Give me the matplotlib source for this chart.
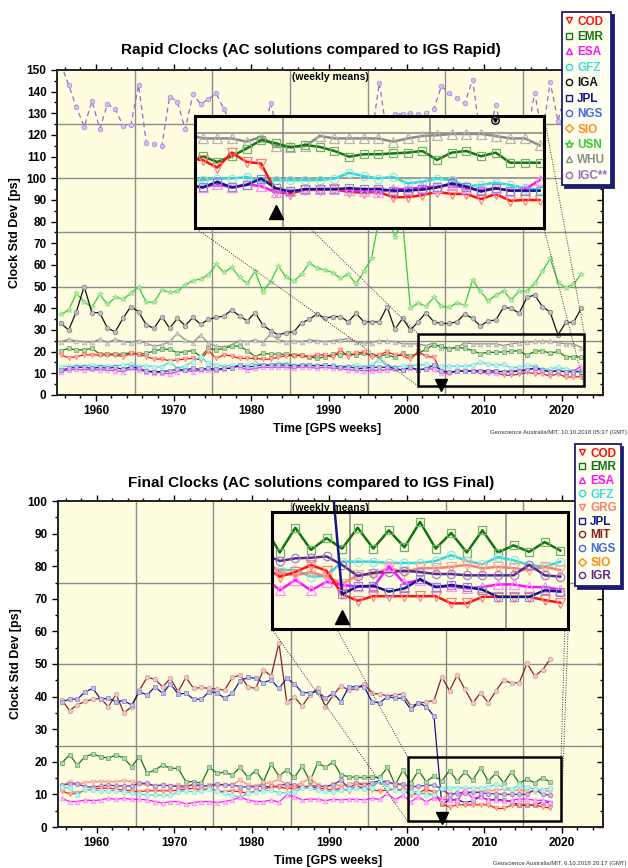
import numpy as np
import matplotlib.pyplot as plt
import matplotlib.colors as mcolors
from matplotlib.lines import Line2D
from matplotlib.patches import Rectangle

plt.rcParams['font.family'] = ['Liberation Sans', 'DejaVu Sans']

# GPS weeks of the weekly means
rapid_weeks = np.arange(1955.5, 2023.0, 1.0)   # 1955.5 .. 2022.5
final_weeks = np.arange(1955.5, 2019.0, 1.0)   # 1955.5 .. 2018.5

# ---- Rapid clocks, std dev [ps]
rapid_cod = [18.5, 17.2, 17.7, 18.5, 18.5, 18.5, 18.5, 18.5, 17.7, 19.2,
             18.9, 17.7, 16.6, 16.6, 15.8, 16.2, 16.6, 16.9, 16.2, 20.5,
             16.9, 18.5, 18.0, 16.9, 16.9, 16.9, 16.5, 16.5, 17.4, 18.2,
             18.2, 18.2, 17.4, 18.5, 18.5, 17.4, 20.8, 17.7, 19.2, 20.0,
             17.7, 18.5, 20.0, 18.5, 18.3, 16.4, 20.1, 17.8, 17.4, 10.4,
             10.0, 10.9, 10.9, 11.0, 10.4, 10.2, 10.4, 9.1, 9.1, 9.6,
             10.4, 9.9, 9.9, 8.6, 9.9, 8.2, 8.4, 8.4]
rapid_emr = [20.5, 21.5, 20.8, 20.8, 21.5, 18.9, 18.9, 18.9, 18.9, 19.5,
             18.9, 19.2, 20.3, 21.1, 21.1, 19.5, 20.0, 20.5, 17.7, 21.5,
             20.8, 21.5, 22.6, 22.6, 20.5, 17.7, 19.2, 18.9, 18.9, 18.8,
             18.5, 18.5, 17.7, 16.9, 17.7, 18.8, 18.5, 19.2, 18.5, 19.2,
             18.5, 18.2, 18.5, 17.4, 19.2, 17.8, 19.2, 21.1, 23.2, 22.4,
             21.4, 22.0, 21.5, 20.5, 19.1, 19.7, 19.7, 19.9, 20.1, 20.5,
             18.3, 20.1, 20.5, 19.2, 20.1, 17.6, 17.6, 17.6]
rapid_esa = [10.8, 11.5, 11.8, 11.5, 11.8, 11.5, 11.5, 11.2, 10.8, 12.3,
             11.5, 10.8, 10.3, 10.3, 9.7, 10.8, 11.5, 10.8, 11.5, 11.5,
             11.5, 11.8, 12.8, 13.1, 11.5, 12.3, 12.8, 12.8, 12.8, 12.8,
             12.3, 13.1, 12.8, 12.3, 12.8, 12.3, 12.3, 11.5, 11.5, 11.2,
             11.2, 11.5, 11.5, 11.8, 11.5, 12.3, 11.5, 12.3, 11.8, 10.3,
             10.5, 11.0, 11.1, 11.1, 10.9, 10.7, 10.3, 11.1, 11.1, 11.5,
             11.7, 12.1, 11.3, 10.9, 11.3, 10.7, 11.0, 13.3]
rapid_gfz = [13.1, 13.4, 13.4, 13.4, 13.8, 13.4, 13.4, 13.4, 13.8, 14.3,
             13.4, 13.4, 13.1, 12.8, 15.4, 12.3, 13.4, 15.4, 17.7, 14.6,
             13.8, 13.4, 13.8, 13.4, 13.8, 14.9, 13.8, 13.8, 14.9, 14.3,
             13.8, 13.4, 13.4, 13.8, 13.4, 13.8, 13.1, 13.4, 13.8, 13.1,
             13.8, 16.3, 13.4, 13.1, 13.3, 13.7, 13.7, 14.1, 12.9, 13.3,
             13.3, 13.3, 13.3, 13.7, 15.1, 14.3, 13.7, 14.1, 12.5, 12.9,
             13.7, 13.3, 11.8, 12.1, 12.7, 12.1, 11.3, 10.9]
rapid_iga = [33.1, 30.0, 38.5, 50.0, 38.0, 38.0, 30.8, 29.2, 35.4, 40.8,
             38.5, 32.3, 30.8, 36.2, 30.8, 35.4, 32.0, 35.8, 32.6, 34.9,
             35.8, 36.5, 39.2, 36.5, 34.2, 38.0, 32.3, 29.7, 27.7, 28.8,
             29.2, 33.4, 34.9, 37.5, 35.4, 36.2, 36.2, 33.8, 37.7, 33.8,
             33.8, 33.8, 40.8, 30.3, 35.4, 30.0, 33.8, 38.0, 33.8, 33.0,
             33.0, 33.8, 37.4, 35.4, 31.8, 34.2, 34.6, 40.5, 40.0, 37.7,
             45.0, 46.2, 40.8, 38.2, 27.7, 33.5, 33.5, 40.0]
rapid_jpl = [11.5, 12.3, 12.8, 12.8, 12.3, 12.8, 12.3, 12.8, 11.8, 13.1,
             12.3, 11.1, 10.8, 10.8, 11.2, 11.8, 11.5, 12.3, 11.8, 12.3,
             11.8, 12.3, 12.3, 13.8, 12.8, 13.4, 13.8, 13.8, 13.8, 13.8,
             13.4, 13.8, 13.8, 13.4, 13.8, 13.4, 12.8, 13.1, 12.3, 12.3,
             12.8, 12.8, 12.8, 12.3, 11.5, 12.9, 11.5, 12.1, 13.7, 11.3,
             10.5, 11.1, 11.1, 11.1, 11.3, 11.1, 11.1, 10.7, 10.7, 11.0,
             11.5, 12.5, 11.7, 10.5, 11.3, 10.7, 10.7, 10.7]
rapid_usn = [37.2, 39.2, 46.9, 43.0, 40.5, 46.5, 41.8, 45.0, 44.3, 46.9,
             50.0, 42.8, 42.8, 48.5, 47.4, 47.8, 50.8, 52.8, 53.5, 55.5,
             60.3, 56.6, 58.9, 54.3, 51.5, 57.2, 47.7, 52.3, 59.5, 54.3,
             52.6, 55.8, 61.0, 58.5, 57.7, 56.5, 53.8, 55.8, 51.2, 57.0,
             63.0, 82.0, 84.0, 73.0, 80.0, 40.0, 42.5, 41.0, 45.0, 41.0,
             40.5, 42.5, 41.5, 53.0, 48.0, 43.5, 46.0, 48.0, 44.0, 48.0,
             48.0, 51.5, 57.0, 63.0, 52.0, 49.5, 51.0, 56.0]
rapid_whu = [24.6, 25.7, 24.9, 24.6, 24.3, 25.7, 24.2, 25.7, 24.6, 24.2,
             25.1, 23.8, 22.6, 23.1, 24.6, 28.5, 25.4, 24.2, 27.7, 23.8,
             22.6, 22.0, 23.1, 25.1, 24.6, 25.4, 24.2, 28.2, 25.4, 24.6,
             24.9, 24.6, 25.4, 25.1, 24.6, 25.1, 25.4, 26.1, 24.6, 23.8,
             24.2, 25.1, 24.9, 24.6, 23.6, 23.6, 23.6, 22.8, 24.0, 21.7,
             21.5, 21.7, 24.2, 23.6, 23.6, 23.6, 23.6, 22.8, 23.6, 24.2,
             24.4, 24.7, 24.7, 24.7, 24.2, 23.6, 23.6, 21.9]
rapid_igc = [153.0, 143.0, 133.0, 123.8, 135.7, 122.9, 134.3, 132.0, 124.3, 124.6,
             143.0, 116.5, 116.0, 115.0, 137.7, 135.4, 122.6, 138.8, 134.3, 136.5,
             139.2, 131.8, 125.0, 119.0, 117.0, 120.0, 118.0, 134.9, 119.0, 117.0,
             118.0, 116.0, 117.0, 118.0, 116.0, 118.0, 117.0, 116.0, 118.0, 117.0,
             119.0, 144.1, 120.0, 129.8, 129.8, 130.0, 129.8, 130.0, 131.8, 142.6,
             139.2, 137.0, 134.6, 145.6, 120.0, 119.0, 133.8, 118.0, 117.0, 118.0,
             119.0, 139.5, 120.0, 144.6, 126.4, 140.0, 135.0, 130.0]

# ---- Final clocks, std dev [ps]
final_cod = [11.1, 10.1, 10.3, 11.3, 11.6, 11.9, 11.9, 11.6, 11.3, 11.1,
             10.8, 11.1, 11.1, 11.1, 11.1, 11.3, 11.6, 11.9, 11.3, 11.9,
             11.1, 10.8, 11.1, 10.8, 10.3, 11.1, 11.3, 12.6, 12.2, 11.9,
             11.9, 12.2, 12.4, 11.9, 11.6, 11.3, 11.9, 11.1, 12.6, 11.9,
             11.3, 11.1, 11.3, 11.6, 11.3,
             9.8, 10.5, 11.6, 10.7, 7.1, 6.1, 6.8, 6.8, 6.8, 6.8,
             6.8, 5.7, 5.7, 6.7, 6.7, 6.7, 6.7, 6.2, 5.8]
final_emr = [19.7, 22.1, 19.0, 21.6, 22.4, 21.6, 21.1, 22.1, 21.1, 18.5,
             21.6, 16.5, 17.5, 19.0, 18.0, 18.0, 13.9, 13.9, 13.4, 18.3,
             16.5, 16.8, 16.0, 18.3, 15.2, 17.3, 13.9, 19.3, 15.6, 17.5,
             15.2, 18.7, 14.0, 19.7, 18.3, 20.0, 16.0, 15.4, 15.2, 15.2,
             15.2, 15.2, 18.3, 12.9, 17.5,
             13.5, 17.3, 13.9, 15.7, 14.1, 17.3, 14.1, 16.9, 14.3, 18.2,
             14.1, 16.5, 13.5, 16.9, 13.5, 14.6, 13.6, 15.1, 13.8]
final_esa = [8.8, 7.8, 7.8, 8.3, 8.1, 8.3, 8.8, 8.5, 8.8, 8.5,
             8.5, 8.3, 7.8, 7.3, 7.8, 7.8, 7.1, 7.5, 7.8, 7.8,
             7.5, 7.8, 8.3, 9.1, 8.3, 7.8, 7.8, 8.3, 7.6, 9.8,
             9.3, 8.3, 8.6, 8.5, 8.1, 8.5, 8.3, 8.5, 8.5, 8.3,
             8.8, 8.5, 10.3, 8.3, 9.8,
             7.7, 9.3, 7.7, 9.0, 8.5, 8.3, 8.2, 11.4, 8.75, 9.3,
             8.2, 8.3, 8.0, 8.2, 8.6, 8.6, 8.2, 8.2, 7.8]
final_gfz = [12.2, 11.9, 9.8, 11.6, 11.3, 11.1, 11.1, 11.1, 10.8, 10.5,
             10.1, 9.8, 9.8, 9.8, 9.8, 10.8, 11.1, 10.8, 11.1, 11.6,
             11.1, 10.3, 9.8, 9.1, 10.3, 10.8, 11.1, 11.3, 10.5, 10.5,
             10.8, 11.9, 11.9, 11.3, 11.1, 10.8, 11.3, 11.6, 11.9, 11.6,
             11.9, 14.3, 12.0, 11.3, 11.1,
             10.8, 10.8, 9.8, 9.9, 12.1, 12.1, 12.1, 11.9, 11.9, 11.9,
             12.2, 13.1, 12.2, 11.7, 12.8, 12.3, 11.6, 11.3, 12.1]
final_grg = [12.6, 13.9, 13.2, 13.6, 13.9, 13.9, 13.9, 13.9, 14.2, 13.9,
             13.2, 12.9, 12.6, 12.9, 12.6, 12.9, 12.6, 12.9, 12.4, 12.9,
             12.6, 12.9, 12.9, 14.4, 12.9, 12.6, 13.4, 13.6, 14.6, 12.9,
             12.6, 13.6, 14.9, 12.9, 12.2, 13.2, 12.6, 13.2, 13.6, 13.2,
             12.9, 13.9, 13.4, 13.2, 12.6,
             10.4, 10.0, 10.5, 9.8, 8.7, 10.0, 10.2, 11.1, 10.5, 11.1,
             11.1, 11.3, 11.6, 11.1, 11.3, 11.1, 10.8, 11.3, 10.8]
final_jpl = [38.4, 39.2, 39.2, 41.5, 42.5, 39.2, 39.5, 38.4, 38.8, 37.4,
             41.5, 40.5, 43.0, 41.0, 43.9, 40.8, 41.0, 39.2, 39.2, 41.5,
             41.2, 39.5, 41.0, 44.9, 45.9, 45.6, 44.3, 45.1, 42.5, 45.6,
             43.9, 41.2, 41.2, 41.5, 39.5, 41.0, 38.4, 43.0, 43.0, 43.0,
             38.4, 38.1, 40.0, 39.5, 39.5,
             36.1, 38.1, 36.9, 34.0, 7.1, 8.3, 8.4, 7.5, 8.0, 9.4,
             8.2, 8.5, 8.2, 7.8, 6.7, 6.7, 6.7, 7.7, 7.5]
final_mit = [39.0, 35.7, 37.5, 38.5, 39.2, 39.4, 36.9, 40.7, 35.0, 36.9,
             42.0, 45.9, 45.3, 43.0, 45.6, 41.5, 45.9, 42.5, 42.8, 42.5,
             42.3, 42.0, 45.9, 46.6, 43.0, 42.5, 48.2, 46.3, 56.5, 38.4,
             39.8, 37.1, 40.5, 42.5, 36.9, 40.5, 43.3, 42.0, 42.5, 43.9,
             41.0, 40.8, 40.2, 40.5, 40.8, 37.1, 37.9, 38.4, 38.8, 46.1,
             41.8, 46.6, 42.2, 37.9, 41.2, 38.1, 41.8, 45.1, 44.1, 44.3,
             50.2, 46.3, 48.2, 51.5]
final_igr = [12.9, 13.2, 13.2, 12.4, 12.2, 12.6, 12.9, 12.6, 12.6, 12.6,
             13.4, 13.4, 12.6, 12.9, 12.6, 12.4, 12.2, 13.2, 12.6, 12.6,
             13.2, 12.9, 12.9, 12.4, 12.2, 12.4, 12.6, 12.2, 12.6, 13.2,
             12.9, 12.2, 12.6, 12.6, 12.4, 12.9, 14.4, 11.9, 13.4, 12.9,
             13.6, 14.2, 13.9, 13.2, 13.2,
             12.2, 12.6, 12.7, 12.9, 11.6, 9.9, 10.4, 10.5, 10.7, 10.5,
             10.2, 10.2, 10.0, 10.0, 10.0, 10.0, 11.6, 10.0, 9.8]

rapid_legend = ['COD', 'EMR', 'ESA', 'GFZ', 'IGA', 'JPL', 'NGS', 'SIO', 'USN', 'WHU', 'IGC**']
final_legend = ['COD', 'EMR', 'ESA', 'GFZ', 'GRG', 'JPL', 'MIT', 'NGS', 'SIO', 'IGR']
event_week = 2004.5           # black marker: change of reference
flag_week, flag_value = 2011.4, 127.0

# line colour, marker colour, legend text colour, symbol
STYLE = {
    'COD':   ('#ff1010', '#ff8080', '#ff1010', 'v'),
    'EMR':   ('#127512', '#6fb26f', '#127512', 's'),
    'ESA':   ('#ff10ff', '#ff90ff', '#ff10ff', '^'),
    'GFZ':   ('#30d8d8', '#8ee8e8', '#40dcdc', 'o'),
    'IGA':   ('#111111', '#8a8a8a', '#111111', 'o'),
    'JPL':   ('#14148c', '#8c8cd0', '#14148c', 's'),
    'NGS':   ('#4169e1', '#4169e1', '#4169e1', 'o'),
    'SIO':   ('#ff8c10', '#ff8c10', '#ff8c10', 'D'),
    'USN':   ('#33cc33', '#8fe08f', '#33cc33', '*'),
    'WHU':   ('#8c8c8c', '#b4b4b4', '#8c8c8c', '^'),
    'IGC**': ('#9966cc', '#b08fd8', '#9966cc', 'o'),
    'GRG':   ('#f88070', '#f8aaa0', '#f88070', 'v'),
    'MIT':   ('#8b2020', '#d8a0a0', '#8b2020', 'o'),
    'IGR':   ('#5a2a90', '#a080c8', '#5a2a90', 'o'),
}

BG = '#fffde0'
GRID = '#8c8c8c'
VGRID = [1965, 1975, 1985, 1995, 2005, 2015]

fig = plt.figure(figsize=(6.28, 8.68), dpi=100)


def pale(c, f=0.45):
    r, g, b = mcolors.to_rgb(c)
    return (r + (1 - r) * f, g + (1 - g) * f, b + (1 - b) * f)


def main_axes(rect, ymax, hgrid):
    ax = fig.add_axes(rect)
    ax.set_facecolor(BG)
    ax.set_xlim(1955, 2025.3)
    ax.set_ylim(0, ymax)
    ax.set_xticks(np.arange(1960, 2021, 10))
    ax.set_xticks(np.arange(1956, 2026, 2), minor=True)
    ax.set_yticks(np.arange(0, ymax + 1, 10))
    ax.set_yticks(np.arange(5, ymax, 10), minor=True)
    ax.tick_params(which='both', direction='out', top=True, right=False, width=1, labelsize=8.5)
    ax.tick_params(which='major', length=4)
    ax.tick_params(which='minor', length=2)
    for lab in ax.get_xticklabels() + ax.get_yticklabels():
        lab.set_fontweight('bold')
    right = ax.secondary_yaxis('right')
    right.set_yticks(np.arange(0, ymax + 1, 10))
    right.set_yticks(np.arange(5, ymax, 10), minor=True)
    right.tick_params(which='both', direction='in', labelright=False, width=1)
    right.tick_params(which='major', length=4)
    right.tick_params(which='minor', length=2)
    right.spines['right'].set_linewidth(1.4)
    for x in VGRID:
        ax.axvline(x, color=GRID, lw=1, zorder=0.5)
    for y in hgrid:
        ax.axhline(y, color=GRID, lw=1, zorder=0.5)
    for s in ax.spines.values():
        s.set_linewidth(1.4)
        s.set_color('#222222')
    ax.set_xlabel('Time [GPS weeks]', fontsize=9, fontweight='bold')
    ax.set_ylabel('Clock Std Dev [ps]', fontsize=9, fontweight='bold')
    ax.xaxis.set_label_coords(0.495, -0.085)
    ax.yaxis.set_label_coords(-0.066, 0.5)
    ax.text(0.5, 0.978, '(weekly means)', transform=ax.transAxes, ha='center', va='center',
            fontsize=7.5, fontweight='bold', zorder=7)
    return ax


def plot_main(ax, weeks, values, ac, **kw):
    line_c, mark_c, _, sym = STYLE[ac]
    ax.plot(weeks, values, color=line_c, lw=0.9, marker=sym, ms=4 if sym == '*' else 3.3,
            mfc=pale(mark_c), mec=mark_c, mew=0.6, zorder=2, **kw)


def plot_inset(axi, weeks, values, ac):
    line_c, mark_c, _, sym = STYLE[ac]
    return axi.plot(weeks, values, color=line_c, lw=1.8, marker=sym, ms=7 if sym in 'v^' else 6,
                    mfc='none', mec=mark_c, mew=0.9)[0]


def inset(ax, bounds, xlim, ylim, hgrid):
    axi = ax.inset_axes(bounds, transform=ax.transData)
    axi.set_facecolor(BG)
    axi.set_xlim(*xlim)
    axi.set_ylim(*ylim)
    axi.set_xticks([])
    axi.set_yticks([])
    for s in axi.spines.values():
        s.set_linewidth(2.2)
        s.set_color('black')
    for x in (2005, 2015):
        axi.axvline(x, color=GRID, lw=1.2, zorder=0.5)
    for y in hgrid:
        axi.axhline(y, color=GRID, lw=1.2, zorder=0.5)
    return axi


def zoom_box(ax, bounds, rect):
    x0, y0, w, h = bounds
    rx, ry, rw, rh = rect
    ax.add_patch(Rectangle((rx, ry), rw, rh, fill=False, ec='black', lw=1.8, zorder=4))
    for (ax_, ay_), (bx, by) in [((x0, y0), (rx, ry)), ((x0, y0 + h), (rx, ry + rh)),
                                 ((x0 + w, y0), (rx + rw, ry)), ((x0 + w, y0 + h), (rx + rw, ry + rh))]:
        ax.plot([ax_, bx], [ay_, by], ls=(0, (1, 1.5)), color='#333333', lw=0.7, zorder=3)


def legend(ax, acs, anchor, spacing):
    handles = [Line2D([], [], ls='none', marker=STYLE[a][3], ms=6 if STYLE[a][3] == '*' else 4.5,
                      mfc='none', mec=STYLE[a][0], mew=1) for a in acs]
    leg = ax.legend(handles, acs, loc='upper left', bbox_to_anchor=anchor,
                    bbox_transform=fig.transFigure, borderaxespad=0, frameon=True,
                    fancybox=False, edgecolor='#1c1c70', facecolor='#fffff0', framealpha=1,
                    prop=dict(weight='bold', size=8.5), labelcolor=[STYLE[a][2] for a in acs],
                    handlelength=0.6, handletextpad=0.4, borderpad=0.3, labelspacing=spacing,
                    shadow={'color': '#1c1c70', 'alpha': 1})
    leg.get_frame().set_linewidth(1.3)
    leg.set_zorder(20)
    return leg


# ================= Rapid =================
ax1 = main_axes([57 / 628, 1 - 395 / 868, 546 / 628, 325 / 868], 150, [25, 50, 75, 100, 125])
fig.text(311 / 628, 1 - 50 / 868, 'Rapid Clocks (AC solutions compared to IGS Rapid)',
         ha='center', va='center', fontsize=11, fontweight='bold')

plot_main(ax1, rapid_weeks, rapid_igc, 'IGC**', ls=(0, (4, 3)))
for ac, vals in [('USN', rapid_usn), ('IGA', rapid_iga), ('WHU', rapid_whu), ('EMR', rapid_emr),
                 ('COD', rapid_cod), ('GFZ', rapid_gfz), ('ESA', rapid_esa), ('JPL', rapid_jpl)]:
    plot_main(ax1, rapid_weeks, vals, ac)

b1 = [1972.8, 77.1, 44.9, 51.6]
zoom_box(ax1, b1, [2001.5, 4.2, 21.4, 24.0])
ax1.plot(event_week, 4.4, marker='v', color='black', ms=8.5, zorder=6, clip_on=False)
ax1.plot(flag_week, flag_value, marker='o', mfc='#c8c8c8', mec='black', ms=5.5, mew=0.9, zorder=8)
ax1.plot(flag_week, flag_value, marker='v', color='black', ms=2.5, zorder=9)

axi1 = inset(ax1, b1, (1999, 2022.8), (1.5, 29.1), [13.75, 25])
for ac, vals in [('WHU', rapid_whu), ('EMR', rapid_emr), ('GFZ', rapid_gfz), ('COD', rapid_cod),
                 ('ESA', rapid_esa), ('JPL', rapid_jpl)]:
    plot_inset(axi1, rapid_weeks, vals, ac)
axi1.plot(event_week, 5.4, marker='^', color='black', ms=10)

legend(ax1, rapid_legend, (562 / 628, 1 - 12 / 868), 0.29)
fig.text(490 / 628, 1 - 432 / 868, 'Geoscience Australia/MIT, 10.10.2018 05:37 (GMT)',
         fontsize=4.3, color='#333333', va='center')

# ================= Final =================
ax2 = main_axes([58 / 628, 1 - 827 / 868, 545 / 628, 326 / 868], 100, [25, 50, 75])
fig.text(311 / 628, 1 - 483 / 868, 'Final Clocks (AC solutions compared to IGS Final)',
         ha='center', va='center', fontsize=11, fontweight='bold')

for ac, vals in [('MIT', final_mit), ('JPL', final_jpl), ('EMR', final_emr), ('GRG', final_grg),
                 ('IGR', final_igr), ('COD', final_cod), ('GFZ', final_gfz), ('ESA', final_esa)]:
    plot_main(ax2, final_weeks, vals, ac)

b2 = [1982.6, 60.7, 38.2, 35.9]
zoom_box(ax2, b2, [2000.1, 1.8, 19.8, 19.7])
ax2.plot(event_week, 2.9, marker='v', color='black', ms=8.5, zorder=6, clip_on=False)

axi2 = inset(ax2, b2, (2000, 2019), (1.75, 19.7), [])
for ac, vals in [('EMR', final_emr), ('GFZ', final_gfz), ('GRG', final_grg), ('IGR', final_igr),
                 ('ESA', final_esa), ('COD', final_cod)]:
    plot_inset(axi2, final_weeks, vals, ac)
jpl_line = plot_inset(axi2, final_weeks, final_jpl, 'JPL')
jpl_line.set_clip_box(ax2.bbox)      # the drop from ~34 ps is only cut by the outer frame
axi2.plot(event_week, 3.6, marker='^', color='black', ms=10)

legend(ax2, final_legend, (575 / 628, 1 - 444 / 868), 0.14)
fig.text(493 / 628, 1 - 864 / 868, 'Geoscience Australia/MIT, 6.10.2018 20:17 (GMT)',
         fontsize=4.3, color='#333333', va='center')

fig.savefig('out.png', dpi=100)
